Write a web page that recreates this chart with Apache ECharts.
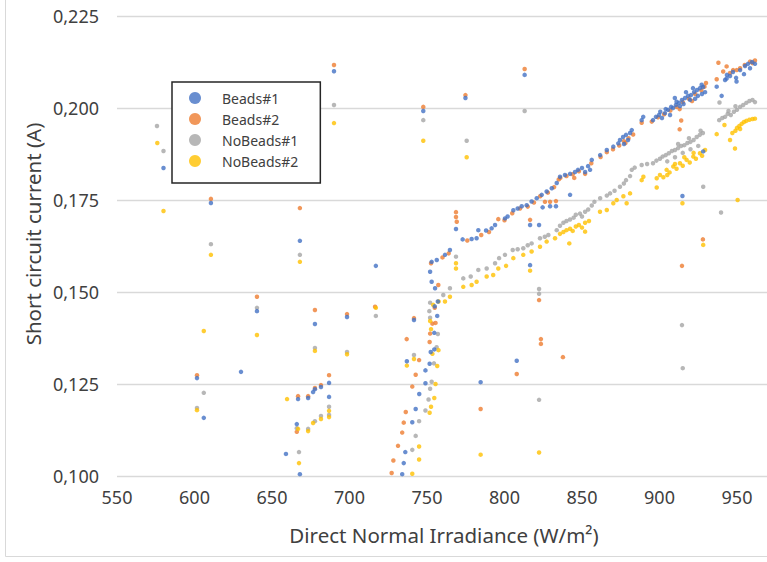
<!DOCTYPE html>
<html><head><meta charset="utf-8">
<script src="https://cdn.jsdelivr.net/npm/echarts@6/dist/echarts.min.js"></script>
<style>html,body{margin:0;padding:0;background:#fff}#c{width:767px;height:562px}</style>
</head><body><div id="c"></div><script>
// ---- data ----
const seriesNames = ['Beads#1', 'Beads#2', 'NoBeads#1', 'NoBeads#2'];
const xTitle = 'Direct Normal Irradiance (W/m²)';
const yTitle = 'Short circuit current (A)';
const xMin = 550, xMax = 1000, xStep = 50;
const yMin = 0.1, yMax = 0.225, yStep = 0.025;

const beads1 = [
[580,0.1837],[610.6,0.1742],[690,0.2100],[668,0.1639],[640.3,0.1448],[677.7,0.1413],[698.4,0.1432],[630,0.1283],[601.6,0.1266],[606,0.1158],[666.8,0.1209],[673.3,0.1212],[676.5,0.1228],[677.7,0.1236],[681.6,0.1242],[686.8,0.1253],[686.8,0.1215],[666,0.1141],[659,0.1060],[668,0.1005],[717,0.1571],[747.6,0.1992],[774.8,0.2027],[813,0.2090],
[734,0.1005],[735,0.1035],[736,0.1065],[740.5,0.1146],[742.7,0.1182],[737,0.1312],[741.6,0.1424],[745,0.1223],[749,0.1252],[749,0.1287],[751.7,0.1305],[752.4,0.1337],[754.7,0.1344],[754.7,0.1389],[756.6,0.1435],[755,0.1461],[757,0.1474],[752,0.1555],[753,0.1528],[755.2,0.1510],[753,0.1582],[756.3,0.1587],[761.6,0.1601],[764.8,0.1614],[768.7,0.1671],
[784.6,0.1255],[807.9,0.1313],[816.5,0.1573],[816.5,0.1682],[822.3,0.1682],[824.6,0.1730],[829.4,0.1733],[833.2,0.1733],
[773,0.1643],[778.8,0.1644],[782,0.1646],[783.1,0.1668],[788.1,0.1667],[791.7,0.1673],[793.9,0.1682],[800.3,0.1700],[802,0.1705],[805.7,0.1722],[808.5,0.1727],[811.1,0.1733],[814.3,0.1736],[817.5,0.1746],[820.8,0.1755],[824,0.1764],[827.2,0.1773],[830.5,0.1782],[833.7,0.1796],
[835.8,0.1813],[839,0.1818],[842.3,0.1821],[845.5,0.1826],[847.4,0.1832],[850,0.1837],[852,0.1826],[853.9,0.1842],[855.2,0.1832],[856.3,0.1859],[861.7,0.1872],[866,0.1886],[870.2,0.1895],[873.4,0.1904],[874.5,0.1913],[876.5,0.1921],[878.4,0.1927],[879.7,0.1913],[881,0.1932],[882.1,0.1940],[877.1,0.1902],
[888.5,0.1967],[889.5,0.1976],[895.8,0.1967],[897.7,0.1976],[899.7,0.1981],[901.6,0.1973],[903.5,0.1986],[905.5,0.1995],[906.8,0.1981],[908.7,0.2000],[910.6,0.2008],[912.6,0.2014],[914.5,0.2022],[916.5,0.2027],[918.4,0.2033],[920.3,0.2035],[922.3,0.2043],[924.2,0.2049],[926.1,0.2054],[928.1,0.2057],[929.4,0.2043],[913.2,0.2005],[919.7,0.2022],[924.8,0.2033],[909.9,0.2027],[917.1,0.2043],[921.6,0.2054],[927.4,0.2038],[900.5,0.1990],[904,0.1997],[907.5,0.2003],[911,0.2017],[915.5,0.2011],[923,0.2025],[927.2,0.2063],
[936.9,0.2058],[940.1,0.2033],[942.3,0.2076],[943.3,0.2080],[945.5,0.2087],[947.4,0.2098],[949.4,0.2082],[949.7,0.2072],[952,0.2103],[955.2,0.2114],[957.1,0.2120],[958.4,0.2108],[959.7,0.2125],[961.6,0.2120],[954.5,0.2092],[943.5,0.2090],
[842.3,0.1764],[914.8,0.1761],[928.2,0.1882]
];

const beads2 = [
[610.6,0.1753],[668,0.1728],[690,0.2117],[640.3,0.1487],[677.7,0.1451],[698.4,0.1440],[601.6,0.1274],[666.8,0.1217],[673.3,0.1217],[677.7,0.1239],[681.6,0.1247],[686.8,0.1274],[666,0.1120],[716.5,0.1460],[747.6,0.2003],[774.8,0.2035],[813,0.2106],
[727.2,0.1008],[728.3,0.1042],[731.3,0.1082],[734,0.1118],[735,0.1145],[736.3,0.1174],[740.5,0.1243],[742.7,0.1275],[744.9,0.1315],[736.9,0.1372],[741.6,0.1429],[751.7,0.1364],[752,0.1387],[753.5,0.1414],[755.5,0.1416],[755,0.1457],[752.6,0.1578],[757.3,0.1519],[760,0.1594],[764,0.1605],[768.7,0.1717],[768.7,0.1704],[769.2,0.1691],
[784.6,0.1182],[807.9,0.1277],[822.3,0.1478],[823.5,0.1372],[823.5,0.1359],[837.7,0.1323],[816.5,0.1696],[826.1,0.1745],[829.4,0.1745],[833.2,0.1747],
[776,0.1640],[785,0.1655],[790,0.1663],[796,0.1698],[800,0.1695],[805,0.1714],[810,0.1727],[815,0.1732],[819,0.1743],[823,0.1760],[828,0.1770],[832,0.1785],[835,0.1806],
[836,0.1810],[840,0.1815],[844,0.1820],[845,0.1810],[848,0.1828],[852,0.1821],[856,0.1850],[862,0.1867],[866,0.1880],[870,0.1888],[874,0.1898],[877,0.1910],[878,0.1905],[880,0.1918],[883,0.1928],[888.5,0.1960],
[895,0.1963],[899,0.1975],[903,0.1983],[907,0.1993],[911,0.2003],[913,0.1997],[915,0.2016],[919,0.2025],[921,0.2019],[923,0.2038],[927,0.2048],[929,0.2058],[930,0.2068],
[938,0.2123],[936.9,0.2078],[941.1,0.2099],[943.3,0.2113],[945.5,0.2095],[947.5,0.2103],[949.8,0.2103],[952,0.2108],[955,0.2117],[958.4,0.2126],[961.6,0.2129],[960,0.2122],
[914.5,0.1571],[928,0.1643],[914,0.1966],[913,0.1942]
];

const noBeads1 = [
[575.8,0.1951],[580,0.1883],[610.6,0.1630],[606,0.1226],[601.6,0.1185],[640.3,0.1457],[668,0.1601],[677.7,0.1348],[698.4,0.1337],[686.8,0.1188],[686.8,0.1166],[681.6,0.1163],[677.7,0.1149],[673.3,0.1128],[666,0.1130],[667.4,0.1065],[690,0.2008],[717,0.1435],[747.6,0.1967],[775.6,0.1911],[813,0.1992],
[740.5,0.1071],[742.7,0.1109],[744.9,0.1149],[749,0.1178],[751,0.1208],[752,0.1237],[753,0.1256],[754.5,0.1306],[741.6,0.1329],[756.2,0.1350],[757,0.1386],[752,0.1430],[751.5,0.1448],[752,0.1471],[760.5,0.1492],[764.8,0.1510],[768.7,0.1596],
[773.4,0.1537],[778.2,0.1542],[783.1,0.1560],[788.5,0.1564],[793.9,0.1578],[796.5,0.1592],[800.3,0.1601],[805.3,0.1614],[808.5,0.1616],[812.1,0.1619],[815,0.1627],[817.5,0.1632],[822.9,0.1646],[826,0.1650],[828.3,0.1655],[833.7,0.1668],
[822.3,0.1508],[822.3,0.1495],[822.3,0.1207],
[835.8,0.1680],[838,0.1688],[840,0.1693],[842.3,0.1697],[844.6,0.1702],[846,0.1710],[848.7,0.1713],[850,0.1705],[852,0.1718],[854,0.1724],[856.3,0.1735],[858,0.1745],[861.7,0.1755],[866,0.1762],[868.1,0.1768],[871,0.1775],[874.5,0.1786],[877,0.1795],[878.4,0.1804],[881,0.1815],[882.1,0.1832],[884,0.1838],[888.5,0.1845],[892,0.1848],[895.8,0.1850],[898,0.1857],[900.3,0.1862],[902,0.1868],[904,0.1872],[906,0.1877],[908,0.1883],[910,0.1886],[912,0.1891],[914,0.1897],[916,0.1899],[918,0.1905],[920,0.1908],[922,0.1913],[924,0.1921],[926,0.1927],[928,0.1932],[905,0.1855],[910,0.1866],[915,0.1878],[920,0.1888],[925,0.1897],[912,0.1902],[919,0.1918],[926.5,0.1938],
[938.5,0.1967],[940.5,0.1973],[942.3,0.1976],[944,0.1984],[946,0.1981],[948,0.1990],[950,0.1995],[952,0.2003],[954,0.2008],[956,0.2014],[958,0.2019],[960,0.2022],[961.6,0.2016],[944.5,0.1992],[949,0.2005],
[914.5,0.1410],[915,0.1293],[928.2,0.1786],[939.7,0.1716],[938.7,0.2015]
];

const noBeads2 = [
[576,0.1905],[580,0.1720],[610.6,0.1601],[606,0.1394],[640.3,0.1383],[601.6,0.1179],[668,0.1582],[677.7,0.1340],[698.4,0.1331],[659.7,0.1209],[666.8,0.1128],[673.3,0.1122],[676.5,0.1144],[681.6,0.1155],[686.8,0.1160],[686.8,0.1177],[667.4,0.1035],[690,0.1959],[717,0.1457],[747.6,0.1911],[775.6,0.1866],[784.6,0.1058],[822.3,0.1064],
[740.5,0.1006],[744.9,0.1045],[744.9,0.1080],[751.7,0.1172],[752.6,0.1188],[754.7,0.1212],[755.5,0.1250],[756.6,0.1299],[737,0.1300],[741.6,0.1318],[753.5,0.1332],[757.4,0.1342],[752.6,0.1399],[752,0.1421],[754,0.1465],[757.5,0.1474],[761.6,0.1474],[764.8,0.1487],[768.7,0.1578],[768.7,0.1564],
[773.4,0.1514],[778.8,0.1519],[782,0.1528],[788.5,0.1542],[792.7,0.1546],[796,0.1564],[801,0.1571],[805.7,0.1592],[812.1,0.1601],[816.5,0.1558],[817.5,0.1610],[822.9,0.1623],[827.2,0.1637],[832.6,0.1646],
[835.8,0.1658],[838,0.1663],[840,0.1668],[841.8,0.1632],[842.3,0.1672],[844,0.1666],[846,0.1678],[848,0.1682],[850,0.1675],[852,0.1688],[852,0.1664],[854.5,0.1693],
[861.6,0.1718],[866,0.1723],[870.2,0.1741],[872.4,0.1750],[876.7,0.1760],[878.8,0.1741],[881,0.1768],[888.5,0.1804],[889.6,0.1813],[898.2,0.1784],[898.2,0.1809],[900.3,0.1818],[902.5,0.1812],[904.6,0.1832],[906.5,0.1825],[908.9,0.1841],[911,0.1835],[913.2,0.1850],[915,0.1843],[917.5,0.1859],[919.5,0.1852],[921.8,0.1868],[923.5,0.1862],[926.1,0.1877],[927.5,0.1870],[929.4,0.1886],[910,0.1848],[916,0.1866],[922,0.1878],[905,0.1818],
[936.9,0.1929],[941.9,0.1954],[945.5,0.1913],[948.7,0.1890],[947,0.1932],[949,0.1938],[950,0.1946],[951.5,0.1951],[953,0.1957],[954.5,0.1962],[956,0.1965],[958,0.1968],[960,0.1970],[961.6,0.1971],[952,0.1943],
[928.2,0.1628],[950.4,0.1750],[914.8,0.1741]
];

const colors = ['#4472C4', '#ED7D31', '#A5A5A5', '#FFC000'];
const allData = [beads1, beads2, noBeads1, noBeads2];

const chart = echarts.init(document.getElementById('c'), null, {renderer: 'svg'});
const font = '"Noto Sans", "Open Sans", sans-serif';
const fmtY = v => v.toFixed(3).replace('.', ',');
const fmtX = v => String(v);

const option = {
  animation: false,
  backgroundColor: '#ffffff',
  grid: {left: 117, top: 16, width: 697.5, height: 460, outerBoundsMode: 'none', containLabel: false},
  xAxis: {
    type: 'value', min: xMin, max: xMax, interval: xStep,
    axisLine: {show: false}, axisTick: {show: false}, splitLine: {show: false},
    axisLabel: {color: '#404040', fontSize: 18, fontFamily: font, margin: 12, formatter: fmtX, showMaxLabel: false}
  },
  yAxis: {
    type: 'value', min: yMin, max: yMax, interval: yStep,
    axisLine: {show: false}, axisTick: {show: false},
    splitLine: {lineStyle: {color: '#d9d9d9', width: 1.3}},
    axisLabel: {color: '#404040', fontSize: 18, fontFamily: font, margin: 18, formatter: fmtY}
  },
  legend: {
    orient: 'vertical', left: 172, top: 82,
    padding: [8, 22, 14, 17],
    itemWidth: 12, itemHeight: 12, itemGap: 5,
    icon: 'circle',
    borderColor: '#262626', borderWidth: 1.5, backgroundColor: '#ffffff',
    textStyle: {color: '#404040', fontSize: 14, fontFamily: font, lineHeight: 16, padding: [0, 0, 0, 16]},
    data: seriesNames
  },
  graphic: [
    {type: 'rect', silent: true, z: -1, shape: {x: 5.5, y: -5, width: 820, height: 561.5},
     style: {fill: 'none', stroke: '#d9d9d9', lineWidth: 1}},
    {type: 'text', x: 444, y: 535, silent: true,
     style: {text: xTitle, fontSize: 20.5, fontFamily: font, fill: '#404040', align: 'center', verticalAlign: 'middle'}},
    {type: 'text', x: 33, y: 234, rotation: Math.PI / 2, silent: true,
     style: {text: yTitle, fontSize: 20.5, fontFamily: font, fill: '#404040', align: 'center', verticalAlign: 'middle'}}
  ],
  series: seriesNames.map((name, i) => ({
    name: name, type: 'scatter', data: allData[i],
    symbol: 'circle', symbolSize: 4.5,
    z: i === 0 ? 6 : 2 + i,
    itemStyle: {color: colors[i]}
  }))
};
chart.setOption(option);
</script></body></html>
